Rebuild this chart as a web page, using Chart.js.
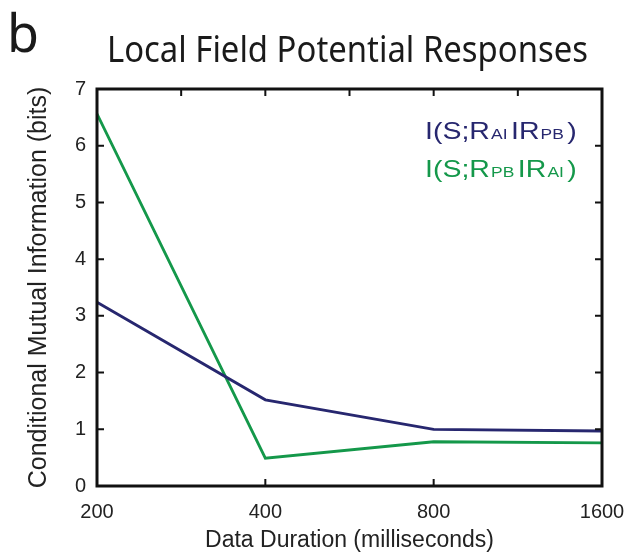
<!DOCTYPE html>
<html>
<head>
<meta charset="utf-8">
<script src="https://cdn.jsdelivr.net/npm/chart.js@4"></script>
<style>
  html, body { margin:0; padding:0; background:#fff; }
  #wrap { width:632px; height:552px; }
</style>
</head>
<body>
<div id="wrap"><canvas id="lfpChart" width="632" height="552"></canvas></div>
<script>
// data
const durations = ['200', '400', '800', '1600'];
const infoAIgivenPB = [3.24, 1.52, 1.00, 0.97];
const infoPBgivenAI = [6.56, 0.49, 0.78, 0.76];
const yTicks = [0, 1, 2, 3, 4, 5, 6, 7];

const BLUE = '#27276f';
const GREEN = '#14984a';
const FONT = '"Liberation Sans", Arial, sans-serif';

// squeeze a text run into a given width (the figure uses narrow fonts)
function fitText(ctx, text, x, base, w){
  const nat = ctx.measureText(text).width;
  ctx.save();
  ctx.translate(x, base);
  ctx.scale(w / nat, 1);
  ctx.fillText(text, 0, 0);
  ctx.restore();
}

// frame, inward ticks, title, panel letter, legend
const decor = {
  id: 'decor',
  afterDraw(chart){
    const ctx = chart.ctx;
    const a = chart.chartArea;
    const x = chart.scales.x, y = chart.scales.y;
    ctx.save();
    ctx.strokeStyle = '#111';
    ctx.lineWidth = 2;
    const tl = 7;
    ctx.beginPath();
    yTicks.forEach(v => {
      const py = y.getPixelForValue(v);
      ctx.moveTo(a.left, py); ctx.lineTo(a.left + tl, py);
      ctx.moveTo(a.right, py); ctx.lineTo(a.right - tl, py);
    });
    for(let i = 1; i < durations.length - 1; i++){
      const px = x.getPixelForValue(i);
      ctx.moveTo(px, a.bottom); ctx.lineTo(px, a.bottom - tl);
    }
    for(let i = 1; i < 6; i++){
      const px = a.left + (a.right - a.left) * i / 6;
      ctx.moveTo(px, a.top); ctx.lineTo(px, a.top + tl);
    }
    ctx.stroke();
    ctx.lineWidth = 3;
    ctx.strokeRect(a.left, a.top, a.right - a.left, a.bottom - a.top);

    // title + panel letter
    ctx.fillStyle = '#1a1a1a';
    ctx.textBaseline = 'alphabetic';
    ctx.textAlign = 'left';
    ctx.font = '37px "Noto Sans", sans-serif';
    fitText(ctx, 'Local Field Potential Responses', 107, 62, 481);
    ctx.font = '52px "Noto Sans", sans-serif';
    ctx.fillText('b', 7, 52);

    // legend with subscripts, drawn then squeezed to the figure's width
    function label(parts, x0, base, w, color){
      ctx.fillStyle = color;
      let nat = 0;
      parts.forEach(([t, sub]) => {
        ctx.font = sub ? '15px ' + FONT : '24.5px ' + FONT;
        nat += ctx.measureText(t).width + (sub ? 3 : 1);
      });
      ctx.save();
      ctx.translate(x0, base);
      ctx.scale(w / nat, 1);
      let cx = 0;
      parts.forEach(([t, sub]) => {
        ctx.font = sub ? '15px ' + FONT : '24.5px ' + FONT;
        ctx.fillText(t, cx, 0);
        cx += ctx.measureText(t).width + (sub ? 3 : 1);
      });
      ctx.restore();
    }
    label([['I(S;R'], ['AI', 1], ['IR'], ['PB', 1], [')']], 425, 139, 153, BLUE);
    label([['I(S;R'], ['PB', 1], ['IR'], ['AI', 1], [')']], 425, 177, 153, GREEN);
    ctx.restore();
  }
};

new Chart(document.getElementById('lfpChart').getContext('2d'), {
  type: 'line',
  data: {
    labels: durations,
    datasets: [
      { label: 'I(S;R_AI|R_PB)', data: infoAIgivenPB, borderColor: BLUE, borderWidth: 2.8, pointRadius: 0, tension: 0, fill: false },
      { label: 'I(S;R_PB|R_AI)', data: infoPBgivenAI, borderColor: GREEN, borderWidth: 2.8, pointRadius: 0, tension: 0, fill: false }
    ]
  },
  options: {
    responsive: false,
    animation: false,
    layout: { padding: { top: 89, right: 30, left: 0, bottom: 0 } },
    plugins: { legend: { display: false }, tooltip: { enabled: false }, title: { display: false } },
    scales: {
      x: {
        type: 'category',
        offset: false,
        grid: { display: false, drawTicks: false },
        border: { display: false },
        ticks: { color: '#222', font: { family: FONT, size: 20 }, padding: 14, maxRotation: 0, autoSkip: false },
        title: { display: true, text: 'Data Duration (milliseconds)', color: '#222', font: { family: FONT, size: 23 }, padding: { top: 0, bottom: -2 } },
        afterFit(s){ s.height = 66; s.paddingLeft = 0; s.paddingRight = 0; }
      },
      y: {
        min: 0, max: 7,
        grid: { display: false, drawTicks: false },
        border: { display: false },
        ticks: { stepSize: 1, color: '#222', font: { family: FONT, size: 20 }, padding: 11 },
        title: { display: true, text: 'Conditional Mutual Information (bits)', color: '#222', font: { family: FONT, size: 25 }, padding: { top: 24, bottom: 0 } },
        afterFit(s){ s.width = 97; }
      }
    }
  },
  plugins: [decor]
});
</script>
</body>
</html>
